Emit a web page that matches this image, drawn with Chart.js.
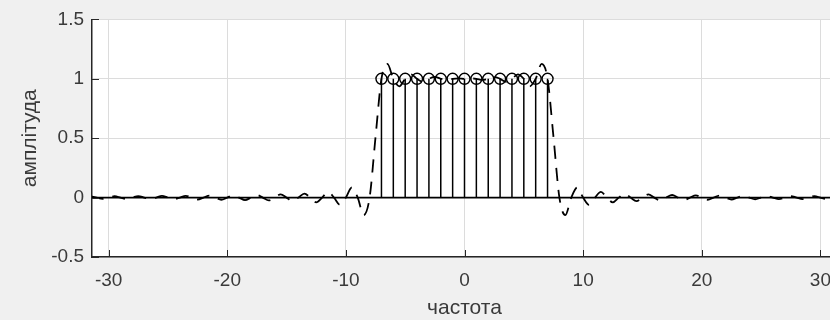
<!DOCTYPE html>
<html>
<head>
<meta charset="utf-8">
<script src="https://cdn.jsdelivr.net/npm/chart.js@4.4.0/dist/chart.umd.min.js"></script>
<style>
  html, body { margin: 0; padding: 0; background: #f0f0f0; overflow: hidden; }
  #wrap { width: 846px; height: 320px; }
</style>
</head>
<body>
<div id="wrap"><canvas id="chart"></canvas></div>
<script>
// Axis limits and tick labels
const xMin = -31.4, xMax = 31.4;
const yMin = -0.5, yMax = 1.5;
const xTicks = [-30, -20, -10, 0, 10, 20, 30];
const yTicks = [-0.5, 0, 0.5, 1, 1.5];

// Stem samples (circles at amplitude 1)
const stemX = [-7, -6, -5, -4, -3, -2, -1, 0, 1, 2, 3, 4, 5, 6, 7];
const stemY = [1, 1, 1, 1, 1, 1, 1, 1, 1, 1, 1, 1, 1, 1, 1];

// Dashed reconstructed curve
const curveX = [
  -31.5, -31, -30.5, -30, -29.5, -29, -28.5, -28,
  -27.5, -27, -26.5, -26, -25.5, -25, -24.5, -24,
  -23.5, -23, -22.5, -22, -21.5, -21, -20.5, -20,
  -19.5, -19, -18.5, -18, -17.5, -17, -16.5, -16,
  -15.5, -15, -14.5, -14, -13.5, -13, -12.5, -12,
  -11.5, -11, -10.5, -10, -9.5, -9, -8.5, -8,
  -7.5, -7, -6.5, -6, -5.5, -5, -4.5, -4,
  -3.5, -3, -2.5, -2, -1.5, -1, -0.5, 0,
  0.5, 1, 1.5, 2, 2.5, 3, 3.5, 4,
  4.5, 5, 5.5, 6, 6.5, 7, 7.5, 8,
  8.5, 9, 9.5, 10, 10.5, 11, 11.5, 12,
  12.5, 13, 13.5, 14, 14.5, 15, 15.5, 16,
  16.5, 17, 17.5, 18, 18.5, 19, 19.5, 20,
  20.5, 21, 21.5, 22, 22.5, 23, 23.5, 24,
  24.5, 25, 25.5, 26, 26.5, 27, 27.5, 28,
  28.5, 29, 29.5, 30, 30.5, 31, 31.5
];
const curveY = [
  0.011, 0, -0.011, 0, 0.012, 0, -0.012, 0,
  0.013, 0, -0.013, 0, 0.014, 0, -0.014, 0,
  0.015, 0, -0.016, 0, 0.017, 0, -0.018, 0,
  0.019, 0, -0.021, 0, 0.022, 0, -0.024, 0,
  0.027, 0, -0.030, 0, 0.034, 0, -0.040, 0,
  0.048, 0, -0.061, 0, 0.085, 0, -0.147, 0,
  0.51, 1, 1.125, 1, 0.937, 1, 1.038, 1,
  0.975, 1, 1.016, 1, 0.991, 1, 1.003, 1,
  1.003, 1, 0.991, 1, 1.016, 1, 0.975, 1,
  1.038, 1, 0.937, 1, 1.125, 1, 0.51, 0,
  -0.147, 0, 0.085, 0, -0.061, 0, 0.048, 0,
  -0.040, 0, 0.034, 0, -0.030, 0, 0.027, 0,
  -0.024, 0, 0.022, 0, -0.021, 0, 0.019, 0,
  -0.018, 0, 0.017, 0, -0.016, 0, 0.015, 0,
  -0.014, 0, 0.014, 0, -0.013, 0, 0.013, 0,
  -0.012, 0, 0.012, 0, -0.011, 0, 0.011
];

const FONT = '"Liberation Sans", Arial, Helvetica, sans-serif';
const INK = '#262626';
const TEXT = '#3a3a3a';

// Build stem segments separated by gaps
const stemLines = [];
stemX.forEach((x, i) => {
  stemLines.push({x: x, y: 0}, {x: x, y: stemY[i]}, {x: x, y: null});
});

// White plot area
const plotBackground = {
  id: 'plotBackground',
  beforeDraw(chart) {
    const {ctx, chartArea: a} = chart;
    ctx.save();
    ctx.fillStyle = '#ffffff';
    ctx.fillRect(a.left, a.top, a.right - a.left, a.bottom - a.top);
    ctx.restore();
  }
};

// MATLAB style tick marks pointing into the plot
const innerTicks = {
  id: 'innerTicks',
  afterDatasetsDraw(chart) {
    const {ctx, chartArea: a, scales: {x, y}} = chart;
    ctx.save();
    ctx.strokeStyle = INK;
    ctx.lineWidth = 1;
    ctx.beginPath();
    xTicks.forEach(v => {
      const px = Math.round(x.getPixelForValue(v)) + 0.5;
      ctx.moveTo(px, a.bottom);
      ctx.lineTo(px, a.bottom - 7);
    });
    yTicks.forEach(v => {
      const py = Math.round(y.getPixelForValue(v)) + 0.5;
      ctx.moveTo(a.left, py);
      ctx.lineTo(a.left + 7, py);
    });
    ctx.stroke();
    ctx.restore();
  }
};

new Chart(document.getElementById('chart'), {
  type: 'line',
  data: {
    datasets: [
      {
        // dashed curve
        data: curveX.map((x, i) => ({x: x, y: curveY[i]})),
        borderColor: '#000000',
        borderWidth: 1.8,
        borderDash: [13, 9],
        pointRadius: 0,
        cubicInterpolationMode: 'monotone',
        fill: false
      },
      {
        // stem heads
        data: stemX.map((x, i) => ({x: x, y: stemY[i]})),
        showLine: false,
        pointStyle: 'circle',
        pointRadius: 5.5,
        pointBorderColor: '#000000',
        pointBackgroundColor: 'rgba(0,0,0,0)',
        pointBorderWidth: 1.4
      },
      {
        // stems
        data: stemLines,
        borderColor: '#000000',
        borderWidth: 1.5,
        pointRadius: 0,
        spanGaps: false,
        tension: 0
      },
      {
        // baseline
        data: [{x: xMin, y: 0}, {x: xMax, y: 0}],
        borderColor: '#000000',
        borderWidth: 1.6,
        pointRadius: 0,
        tension: 0
      }
    ]
  },
  options: {
    responsive: true,
    maintainAspectRatio: false,
    animation: false,
    events: [],
    layout: {
      padding: {top: 16, right: 9, left: 0, bottom: 0}
    },
    plugins: {
      legend: {display: false},
      tooltip: {enabled: false}
    },
    scales: {
      x: {
        type: 'linear',
        min: xMin,
        max: xMax,
        afterBuildTicks: s => { s.ticks = xTicks.map(v => ({value: v})); },
        afterFit: s => { s.height = 63; },
        grid: {color: '#dcdcdc', lineWidth: 1, drawTicks: false},
        border: {display: true, color: INK, width: 1.5},
        ticks: {
          font: {family: FONT, size: 19},
          color: TEXT,
          padding: 12,
          maxRotation: 0,
          autoSkip: false,
          callback: v => String(v)
        },
        title: {
          display: true,
          text: 'частота',
          font: {family: FONT, size: 21, lineHeight: 1},
          color: TEXT,
          padding: {top: 0, bottom: 1}
        }
      },
      y: {
        type: 'linear',
        min: yMin,
        max: yMax,
        afterBuildTicks: s => { s.ticks = yTicks.map(v => ({value: v})); },
        afterFit: s => { s.width = 92; },
        grid: {color: '#dcdcdc', lineWidth: 1, drawTicks: false},
        border: {display: true, color: INK, width: 1.5},
        ticks: {
          font: {family: FONT, size: 19},
          color: TEXT,
          padding: 8,
          callback: v => String(v)
        },
        title: {
          display: true,
          text: 'амплітуда',
          font: {family: FONT, size: 21, lineHeight: 1},
          color: TEXT,
          padding: {top: 20, bottom: 0}
        }
      }
    }
  },
  plugins: [plotBackground, innerTicks]
});
</script>
</body>
</html>
